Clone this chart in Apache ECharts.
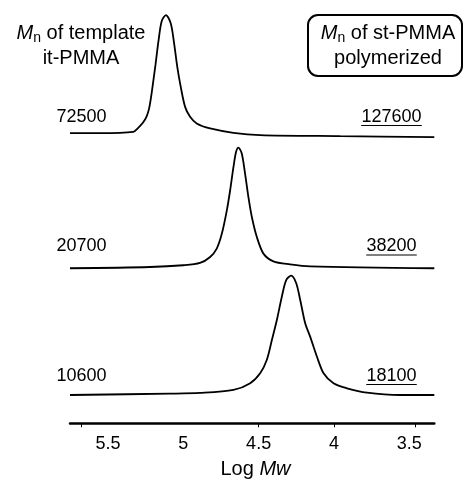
<!DOCTYPE html>
<html>
<head>
<meta charset="utf-8">
<script src="https://cdn.jsdelivr.net/npm/echarts@6/dist/echarts.min.js"></script>
<style>html,body{margin:0;padding:0;background:#fff;}#c{width:463px;height:479px;}</style>
</head>
<body>
<div id="c"></div>
<script>
// Log Mw tick labels and tick mark positions
var tickLabels = [5.5, 5, 4.5, 4, 3.5];
var tickMarks = [5.68, 4.5, 4, 3.46];

// Trace 1 (template it-PMMA Mn 72500 / st-PMMA 127600)
var logM1 = [5.752, 5.553, 5.332, 5.301, 5.267, 5.244, 5.228, 5.214, 5.201, 5.184, 5.164, 5.143, 5.115, 5.083, 5.061, 5.040, 5.017, 4.988, 4.955, 4.911, 4.822, 4.667, 4.490, 3.958, 3.334];
var int1  = [0.008, 0.008, 0.019, 0.05, 0.096, 0.146, 0.208, 0.308, 0.425, 0.583, 0.783, 0.942, 0.992, 0.922, 0.756, 0.561, 0.394, 0.227, 0.144, 0.089, 0.047, 0.011, -0.008, -0.017, -0.025];
var offset1 = 2.41;

// Trace 2 (20700 / 38200)
var logM2 = [5.752, 5.221, 5.000, 4.889, 4.822, 4.778, 4.744, 4.711, 4.689, 4.667, 4.650, 4.634, 4.612, 4.590, 4.568, 4.545, 4.512, 4.468, 4.402, 4.291, 4.158, 3.334];
var int2  = [-0.008, 0.0025, 0.017, 0.036, 0.086, 0.156, 0.281, 0.475, 0.642, 0.836, 0.961, 0.998, 0.948, 0.781, 0.586, 0.419, 0.253, 0.114, 0.05, 0.025, 0.008, -0.008];
var offset2 = 1.30;

// Trace 3 (10600 / 18100)
var logM3 = [5.752, 5.088, 4.889, 4.667, 4.556, 4.490, 4.446, 4.412, 4.379, 4.346, 4.317, 4.284, 4.251, 4.224, 4.191, 4.158, 4.113, 4.069, 4.003, 3.914, 3.781, 3.560, 3.334];
var int3  = [0, 0.011, 0.017, 0.042, 0.098, 0.181, 0.292, 0.458, 0.625, 0.819, 0.958, 0.994, 0.933, 0.792, 0.598, 0.486, 0.319, 0.181, 0.098, 0.056, 0.019, 0, 0];
var offset3 = 0.236;

var templateMn = ['72500', '20700', '10600'];
var stMn = ['127600', '38200', '18100'];

function build(xs, ys, off) {
  return xs.map(function (x, i) { return [x, ys[i] + off]; });
}

var FONT = '"Liberation Sans", Arial, Helvetica, sans-serif';
var chart = echarts.init(document.getElementById('c'), null, {renderer: 'canvas'});

function lineSeries(data) {
  return {
    type: 'line', data: data, smooth: 0.3, showSymbol: false, symbol: 'none',
    lineStyle: {color: '#000', width: 1.8}, silent: true, animation: false
  };
}

var rowY = [117, 246.5, 376];
var graphics = [];
rowY.forEach(function (y, i) {
  graphics.push({type: 'text', x: 81.5, y: y, style: {text: templateMn[i], font: '18px ' + FONT, fill: '#000', align: 'center', verticalAlign: 'middle'}});
  graphics.push({type: 'text', x: 391.5, y: y, style: {text: stMn[i], font: '18px ' + FONT, fill: '#000', align: 'center', verticalAlign: 'middle'}});
  var w = stMn[i].length * 10.1;
  graphics.push({type: 'line', shape: {x1: 391.5 - w / 2, y1: y + 8.5, x2: 391.5 + w / 2, y2: y + 8.5}, style: {stroke: '#000', lineWidth: 1.2}});
});

var richT = {
  i: {fontStyle: 'italic', fontSize: 20, fontFamily: FONT},
  s: {fontSize: 14, fontFamily: FONT, padding: [10, 0, 0, 0]},
  r: {fontSize: 20, fontFamily: FONT}
};
graphics.push({type: 'text', x: 81, y: 33, style: {text: '{i|M}{s|n}{r| of template}', rich: richT, fill: '#000', align: 'center', verticalAlign: 'middle'}});
graphics.push({type: 'text', x: 81, y: 58, style: {text: 'it-PMMA', font: '20px ' + FONT, fill: '#000', align: 'center', verticalAlign: 'middle'}});
graphics.push({type: 'rect', shape: {x: 308, y: 15, width: 154, height: 61, r: 10}, style: {fill: 'none', stroke: '#000', lineWidth: 2}});
graphics.push({type: 'text', x: 388, y: 33, style: {text: '{i|M}{s|n}{r| of st-PMMA}', rich: richT, fill: '#000', align: 'center', verticalAlign: 'middle'}});
graphics.push({type: 'text', x: 388, y: 58, style: {text: 'polymerized', font: '20px ' + FONT, fill: '#000', align: 'center', verticalAlign: 'middle'}});
graphics.push({type: 'text', x: 255.5, y: 469, style: {text: '{r|Log }{i|Mw}', rich: {r: {fontSize: 20, fontFamily: FONT}, i: {fontSize: 20, fontStyle: 'italic', fontFamily: FONT}}, fill: '#000', align: 'center', verticalAlign: 'middle'}});

chart.setOption({
  animation: false,
  backgroundColor: '#fff',
  grid: {left: 70, right: 28.7, top: 0, bottom: 55.7, containLabel: false},
  xAxis: {
    type: 'value', inverse: true, min: 3.334, max: 5.752,
    axisLine: {show: true, onZero: false, lineStyle: {color: '#000', width: 2.5}},
    axisTick: {show: true, customValues: tickMarks, length: 4, lineStyle: {color: '#000', width: 1}},
    axisLabel: {customValues: tickLabels, margin: 12, fontSize: 18, fontFamily: FONT, color: '#000', formatter: function (v) { return String(v); }},
    splitLine: {show: false}
  },
  yAxis: {
    type: 'value', min: 0, max: 3.5275, show: false, splitLine: {show: false}
  },
  series: [
    lineSeries(build(logM1, int1, offset1)),
    lineSeries(build(logM2, int2, offset2)),
    lineSeries(build(logM3, int3, offset3))
  ],
  graphic: graphics
});
</script>
</body>
</html>
